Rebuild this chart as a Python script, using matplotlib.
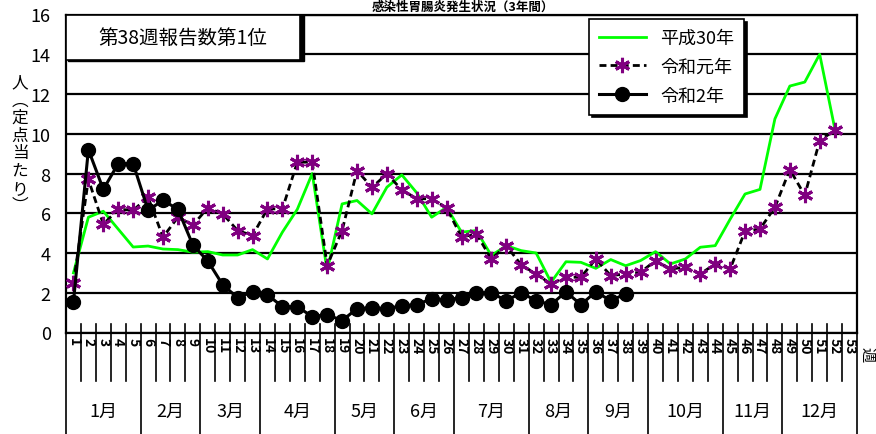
import matplotlib
matplotlib.use('Agg')
import matplotlib.pyplot as plt
from matplotlib.patches import Rectangle
import numpy as np

plt.rcParams['font.family'] = ['Noto Sans CJK JP', 'DejaVu Sans']

# data (per sentinel, by week)
weeks = list(range(1, 54))
h30 = [3.0, 5.8, 6.1, 5.2, 4.3, 4.35, 4.2, 4.17, 4.04, 4.07, 3.9, 3.9, 4.17, 3.7, 5.05, 6.2, 8.0,
       3.1, 6.47, 6.64, 5.97, 7.31, 7.93, 7.03, 5.8, 6.3, 5.05, 5.13, 3.87, 4.37, 4.12, 4.0, 2.53,
       3.56, 3.53, 3.23, 3.67, 3.36, 3.62, 4.07, 3.45, 3.7, 4.29, 4.37, 5.7, 6.97, 7.2, 10.75,
       12.4, 12.6, 14.0, 10.3]
r1 = [2.5, 7.7, 5.45, 6.2, 6.15, 6.8, 4.8, 5.8, 5.4, 6.27, 5.97, 5.13, 4.88, 6.22, 6.22, 8.57,
      8.57, 3.37, 5.13, 8.15, 7.3, 7.98, 7.18, 6.73, 6.73, 6.27, 4.8, 4.96, 3.7, 4.37, 3.4, 2.95,
      2.44, 2.78, 2.78, 3.7, 2.86, 2.95, 3.03, 3.62, 3.2, 3.28, 2.95, 3.45, 3.2, 5.1, 5.21, 6.3,
      8.2, 6.9, 9.66, 10.17]
r2 = [1.55, 9.2, 7.2, 8.5, 8.5, 6.15, 6.65, 6.2, 4.4, 3.6, 2.4, 1.75, 2.05, 1.9, 1.3, 1.3, 0.8,
      0.9, 0.6, 1.2, 1.25, 1.2, 1.35, 1.4, 1.7, 1.65, 1.75, 2.0, 2.0, 1.6, 2.0, 1.6, 1.4, 2.05,
      1.4, 2.05, 1.6, 1.95]
series_names = ['平成30年', '令和元年', '令和2年']
months = ['1月', '2月', '3月', '4月', '5月', '6月', '7月', '8月', '9月', '10月', '11月', '12月']
month_first_week = [1, 6, 10, 14, 19, 23, 27, 32, 36, 40, 45, 49, 54]

fig = plt.figure(figsize=(8.76, 4.35), dpi=100)
ax = fig.add_axes([66/876, 1-333.5/435, 791/876, 318/435])

# lines
ax.plot(weeks[:len(h30)], h30, color='#00ff00', lw=2, label=series_names[0], zorder=3)
ax.plot(weeks[:len(r1)], r1, color='black', lw=2, ls=(0, (2.5, 1.5)), marker=(6, 2, 0),
        markersize=11, markeredgecolor='#800080', markeredgewidth=2.2, label=series_names[1], zorder=4)
ax.plot(weeks[:len(r2)], r2, color='black', lw=2.2, marker='o', markersize=10,
        markerfacecolor='black', markeredgecolor='black', label=series_names[2], zorder=5)

ax.set_xlim(0.5, 53.5)
ax.set_ylim(0, 16)
ax.set_yticks(range(0, 17, 2))
ax.yaxis.grid(True, color='black', lw=1.6)
ax.set_axisbelow(True)
ax.tick_params(axis='y', length=0, pad=11, labelsize=13)
ax.set_xticks(weeks)
ax.set_xticklabels([str(w) for w in weeks], rotation=-90, fontsize=10, fontweight='bold')
ax.tick_params(axis='x', length=0, pad=3)
for s in ax.spines.values():
    s.set_linewidth(1.6)

# week / month separators below the axis
trans = ax.get_xaxis_transform()
month_bounds = [m - 0.5 for m in month_first_week]
for b in np.arange(0.5, 54, 1):
    low = -0.33 if b in month_bounds else -0.152
    ax.plot([b, b], [low, 0.028], transform=trans, color='black', lw=1.2, clip_on=False)
for i, m in enumerate(months):
    ax.text((month_bounds[i] + month_bounds[i+1]) / 2, -0.245, m, transform=trans,
            ha='center', va='center', fontsize=13)

# annotation box
ax.add_patch(Rectangle((0.003, 0.853), 0.298, 0.147, transform=ax.transAxes, facecolor='black',
                       edgecolor='black', zorder=6, clip_on=False))
ax.add_patch(Rectangle((0, 0.858), 0.296, 0.142, transform=ax.transAxes, facecolor='white',
                       edgecolor='black', lw=1.2, zorder=7, clip_on=False))
ax.text(0.148, 0.929, '第38週報告数第1位', transform=ax.transAxes, ha='center', va='center',
        fontsize=14, zorder=8)

leg = ax.legend(loc='upper left', bbox_to_anchor=(589/876, 1-20/435), bbox_transform=fig.transFigure,
                fontsize=13, frameon=True, fancybox=False, edgecolor='black', framealpha=1,
                handlelength=2.6, labelspacing=0.6, borderpad=0.55, borderaxespad=0,
                shadow={'color': 'black', 'alpha': 1, 'ox': 2, 'oy': -2})
leg.get_frame().set_linewidth(1.2)
leg.set_zorder(10)

# axis labels
fig.text(20/876, 1-145/435, '人\n︵\n定\n点\n当\nた\nり\n︶', ha='center', va='center',
         fontsize=12, linespacing=1.05)
fig.text(867/876, 1-355/435, '週', rotation=-90, ha='center', va='center', fontsize=11)
fig.text(0.528, 1-1/435, '感染性胃腸炎発生状況（3年間）', ha='center', va='top', fontsize=9,
         fontweight='bold')

plt.savefig('out.png', dpi=100)
